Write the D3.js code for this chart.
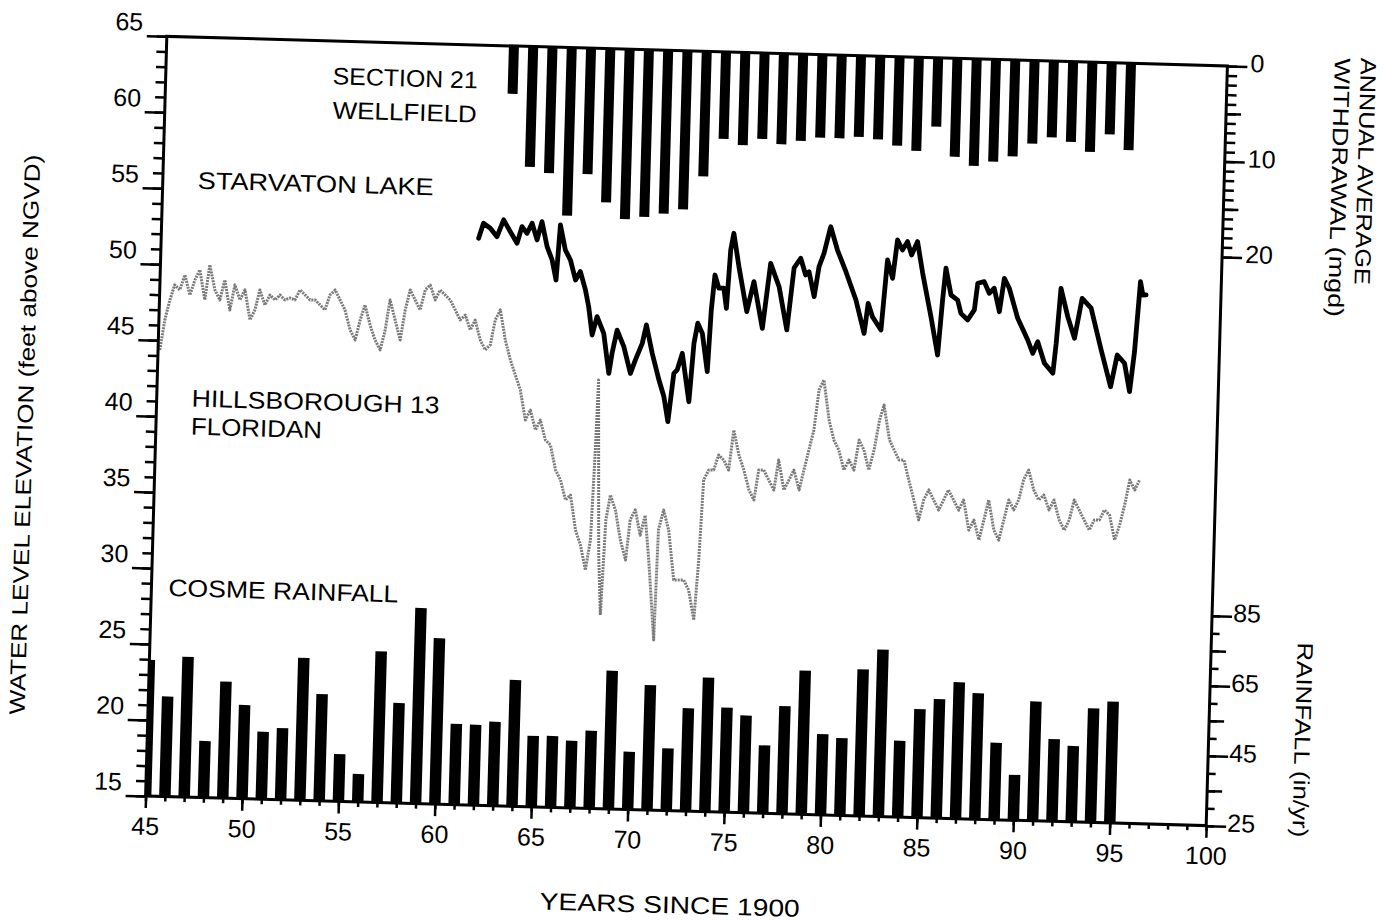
<!DOCTYPE html>
<html>
<head>
<meta charset="utf-8">
<script src="https://cdn.jsdelivr.net/npm/d3@7"></script>
<style>
  body { margin: 0; background: #ffffff; }
  text { font-family: "Liberation Sans", Arial, sans-serif; fill: #000; }
</style>
</head>
<body>
<div id="vis1"></div>
<script>
//frame dimensions
const FRAME_WIDTH = 1397;
const FRAME_HEIGHT = 921;
const PLOT = {left: 156, right: 1217, top: 51, bottom: 811};
const TILT = 1.6; // the scanned page sits a bit crooked

// data
const rainYears = d3.range(45, 96);
const rainfall = [63.9, 53.6, 65.1, 41.2, 58.3, 51.8, 44.3, 45.5, 65.7, 55.5,
                  38.5, 33.0, 68.2, 53.6, 80.9, 72.4, 48.1, 48.0, 49.0, 61.1,
                  45.3, 45.4, 44.2, 47.2, 64.5, 41.5, 60.7, 42.8, 54.4, 63.3,
                  54.9, 52.8, 44.4, 55.8, 66.1, 48.1, 47.1, 66.9, 72.7, 46.8,
                  56.0, 59.0, 64.0, 61.0, 47.0, 38.0, 59.1, 48.5, 46.7, 57.6, 59.7];

const pumpYears = d3.range(63, 96);
const withdrawal = [5.0, 12.6, 13.2, 17.6, 13.2, 16.1, 17.8, 17.5, 17.1, 16.6,
                    13.1, 9.1, 9.7, 9.0, 9.5, 9.1, 8.7, 8.7, 8.5, 8.7,
                    9.3, 9.8, 7.2, 10.3, 11.2, 10.7, 10.1, 8.7, 8.0, 8.4,
                    9.4, 7.5, 9.1];

const lakeYears = [61.45, 61.68, 62.04, 62.40, 62.72, 63.08, 63.45, 63.68, 63.95, 64.20,
  64.48, 64.71, 65.01, 65.29, 65.52, 65.67, 65.96, 66.24, 66.53, 66.77,
  67.06, 67.25, 67.47, 67.70, 68.07, 68.39, 68.53, 68.76, 69.13, 69.51,
  69.75, 70.08, 70.27, 70.61, 71.00, 71.28, 71.52, 71.76, 71.93, 72.17,
  72.58, 72.76, 72.93, 73.18, 73.49, 73.61, 73.75, 73.97, 74.23, 74.39,
  74.53, 74.67, 74.98, 75.45, 75.78, 76.28, 76.62, 77.09, 77.55, 77.84,
  78.17, 78.45, 78.62, 78.92, 79.13, 79.37, 79.68, 80.06, 80.53, 81.09,
  81.56, 81.73, 81.97, 82.43, 82.67, 82.96, 83.16, 83.43, 83.68, 83.91,
  84.20, 84.51, 85.00, 85.40, 85.58, 85.71, 86.01, 86.36, 86.55, 86.91,
  87.24, 87.38, 87.71, 87.99, 88.24, 88.54, 88.75, 89.02, 89.50, 90.05,
  90.33, 90.57, 90.95, 91.40, 91.53, 91.70, 92.09, 92.47, 92.81, 93.29,
  93.87, 94.41, 94.71, 95.10, 95.40, 95.60, 95.81, 95.95, 96.12];
const lakeLevels = [52.30, 53.29, 52.97, 52.43, 53.55, 52.79, 52.04, 53.14, 52.71, 53.38,
  52.29, 53.50, 51.87, 51.00, 49.69, 53.32, 51.68, 51.03, 49.73, 50.29,
  49.09, 48.00, 46.14, 47.36, 46.27, 43.65, 44.97, 46.51, 45.43, 43.69,
  44.58, 45.68, 46.90, 45.05, 43.30, 42.21, 40.58, 43.77, 44.00, 45.10,
  41.93, 45.78, 47.11, 46.45, 43.94, 48.01, 50.31, 49.45, 49.46, 48.14,
  51.99, 53.09, 50.90, 47.96, 49.95, 46.89, 51.18, 49.66, 46.83, 50.92,
  51.57, 50.48, 50.70, 49.07, 51.05, 51.94, 53.70, 52.18, 50.77, 48.93,
  46.75, 48.73, 47.86, 47.00, 51.62, 50.42, 52.95, 52.30, 52.86, 51.99,
  52.88, 50.81, 47.97, 45.46, 49.09, 51.18, 49.43, 49.11, 48.24, 47.82,
  48.49, 50.25, 50.37, 49.61, 49.95, 48.42, 50.62, 49.98, 48.02, 46.61,
  45.74, 46.52, 45.11, 44.47, 46.45, 50.07, 48.22, 46.81, 49.45, 48.82,
  46.09, 43.69, 45.79, 45.26, 43.40, 46.04, 50.65, 49.78, 49.79];

const wellYears = [45.09, 45.31, 45.54, 45.77, 46.04, 46.28, 46.57, 46.81, 47.05, 47.35,
  47.56, 47.86, 48.13, 48.36, 48.66, 48.89, 49.17, 49.42, 49.72, 49.96,
  50.19, 50.47, 50.72, 50.99, 51.24, 51.50, 51.76, 52.02, 52.27, 52.54,
  52.80, 53.06, 53.33, 53.59, 53.83, 54.09, 54.36, 54.63, 54.92, 55.20,
  55.43, 55.66, 55.95, 56.23, 56.51, 56.74, 56.95, 57.24, 57.53, 57.75,
  57.98, 58.25, 58.52, 58.76, 59.01, 59.29, 59.53, 59.80, 60.07, 60.34,
  60.61, 60.87, 61.15, 61.39, 61.68, 61.95, 62.21, 62.43, 62.68, 62.98,
  63.27, 63.55, 63.83, 64.13, 64.38, 64.67, 64.91, 65.20, 65.47, 65.77,
  66.04, 66.33, 66.58, 66.89, 67.17, 67.46, 67.68, 67.81, 67.87, 68.13,
  68.30, 68.45, 68.65, 68.93, 69.23, 69.53, 69.71, 69.96, 70.25, 70.48,
  70.73, 71.10, 71.19, 71.43, 71.72, 72.05, 72.31, 72.57, 72.84, 73.15,
  73.32, 73.46, 73.71, 73.97, 74.20, 74.47, 74.74, 74.95, 75.25, 75.53,
  75.82, 76.09, 76.30, 76.56, 76.83, 77.11, 77.32, 77.63, 77.88, 78.12,
  78.42, 78.64, 78.87, 79.10, 79.31, 79.55, 79.87, 80.15, 80.42, 80.71,
  80.96, 81.23, 81.46, 81.72, 82.00, 82.25, 82.49, 82.70, 83.03, 83.29,
  83.55, 83.81, 84.09, 84.38, 84.66, 84.89, 85.14, 85.41, 85.68, 85.92,
  86.16, 86.44, 86.72, 86.96, 87.27, 87.52, 87.81, 88.04, 88.26, 88.57,
  88.84, 89.07, 89.30, 89.57, 89.81, 90.04, 90.29, 90.58, 90.85, 91.11,
  91.40, 91.64, 91.94, 92.22, 92.46, 92.69, 92.96, 93.23, 93.51, 93.76,
  94.02, 94.27, 94.54, 94.84, 95.08, 95.31, 95.54, 95.81, 96.05];
const wellLevels = [44.36, 46.35, 47.67, 48.67, 48.35, 49.34, 48.03, 49.03, 49.70, 47.74,
  50.05, 48.41, 47.76, 49.09, 47.12, 48.78, 47.80, 48.47, 46.50, 47.17,
  48.49, 47.51, 48.18, 47.86, 48.20, 47.88, 48.02, 47.90, 48.57, 48.25,
  47.93, 47.94, 47.62, 47.30, 48.29, 48.63, 47.98, 47.33, 46.03, 45.38,
  46.70, 47.70, 46.39, 45.41, 44.77, 46.09, 48.07, 46.77, 45.46, 47.44,
  48.77, 48.12, 47.47, 48.80, 49.13, 48.16, 48.82, 48.50, 48.18, 47.54,
  46.89, 47.22, 46.25, 46.91, 45.61, 44.96, 45.30, 46.95, 47.62, 45.65,
  44.35, 43.37, 42.39, 40.43, 41.09, 39.79, 40.45, 39.15, 38.83, 37.19,
  36.55, 35.24, 35.58, 33.28, 32.30, 30.67, 32.65, 38.94, 43.19, 31.71,
  27.74, 34.00, 35.65, 34.67, 32.70, 31.40, 34.05, 34.72, 33.06, 34.38,
  31.45, 26.20, 33.45, 34.76, 33.45, 30.18, 30.18, 30.19, 29.55, 27.58,
  31.54, 36.81, 37.48, 37.49, 38.48, 38.16, 37.51, 40.15, 38.52, 37.54,
  36.24, 35.59, 37.57, 37.58, 36.93, 36.28, 38.26, 36.30, 36.97, 37.63,
  36.33, 37.65, 38.97, 40.30, 42.94, 43.61, 40.99, 39.68, 39.03, 37.72,
  38.39, 37.74, 39.72, 39.08, 37.77, 39.10, 41.08, 42.07, 39.78, 39.13,
  38.49, 38.49, 37.18, 35.88, 34.58, 35.90, 36.57, 35.91, 35.27, 35.93,
  36.60, 35.95, 35.30, 35.97, 34.00, 34.67, 33.37, 34.69, 36.02, 34.05,
  33.40, 34.73, 36.05, 35.41, 36.07, 37.40, 38.06, 36.76, 36.11, 36.45,
  35.47, 36.14, 34.83, 34.18, 34.85, 36.17, 35.53, 34.88, 34.23, 34.89,
  34.90, 35.57, 35.25, 33.62, 34.61, 35.93, 37.59, 36.94, 37.61];

// tick labels
const levelTicks = [15, 20, 25, 30, 35, 40, 45, 50, 55, 60, 65];
const yearTicks = [45, 50, 55, 60, 65, 70, 75, 80, 85, 90, 95, 100];
const pumpTicks = [0, 10, 20];
const rainTicks = [25, 45, 65, 85];

const svg = d3.select("#vis1")
  .append("svg")
    .attr("width", FRAME_WIDTH)
    .attr("height", FRAME_HEIGHT);

const FRAME1 = svg.append("g")
    .attr("transform", "rotate(" + TILT + ",686.5,431)");

// scales
const X_SCALE = d3.scaleLinear().domain([45, 100]).range([PLOT.left, PLOT.right]);
const LEVEL = d3.scaleLinear().domain([15, 65]).range([PLOT.bottom, PLOT.top]);
const PUMP = d3.scaleLinear().domain([0, 20]).range([PLOT.top, PLOT.top + 191]);
const RAIN = d3.scaleLinear().domain([25, 85]).range([PLOT.bottom, PLOT.bottom - 210]);

FRAME1.append("clipPath").attr("id", "plotclip")
  .append("rect")
    .attr("x", PLOT.left).attr("y", PLOT.top)
    .attr("width", PLOT.right - PLOT.left).attr("height", PLOT.bottom - PLOT.top);

const marks = FRAME1.append("g").attr("clip-path", "url(#plotclip)");

// rainfall bars
const RAIN_W = 11.5;
marks.selectAll(".rain")
    .data(d3.zip(rainYears, rainfall))
    .enter()
    .append("rect")
      .attr("x", (d) => { return X_SCALE(d[0]) - RAIN_W / 2; })
      .attr("y", (d) => { return RAIN(d[1]); })
      .attr("width", RAIN_W)
      .attr("height", (d) => { return RAIN(25) - RAIN(d[1]); })
      .attr("fill", "#000");

// withdrawal bars hang from the top
const PUMP_W = 10;
marks.selectAll(".pump")
    .data(d3.zip(pumpYears, withdrawal))
    .enter()
    .append("rect")
      .attr("x", (d) => { return X_SCALE(d[0]) - PUMP_W / 2; })
      .attr("y", PUMP(0))
      .attr("width", PUMP_W)
      .attr("height", (d) => { return PUMP(d[1]) - PUMP(0); })
      .attr("fill", "#000");

// hillsborough 13 floridan well (grey, noisy)
const line = d3.line()
    .x((d) => { return X_SCALE(d[0]); })
    .y((d) => { return LEVEL(d[1]); });

marks.append("path")
    .datum(d3.zip(wellYears, wellLevels))
    .attr("d", line)
    .attr("fill", "none")
    .attr("stroke", "#7a7a7a")
    .attr("stroke-width", 3)
    .attr("stroke-dasharray", "2 1")
    .attr("stroke-linejoin", "round");

// starvaton lake
marks.append("path")
    .datum(d3.zip(lakeYears, lakeLevels))
    .attr("d", line)
    .attr("fill", "none")
    .attr("stroke", "#000")
    .attr("stroke-width", 4.8)
    .attr("stroke-linejoin", "round")
    .attr("stroke-linecap", "round");

// axes
function styleAxis(g) {
  g.select(".domain").remove();
  g.selectAll("line").attr("stroke", "#000").attr("stroke-width", 2.5);
  g.attr("font-size", 25).attr("font-family", "Liberation Sans, Arial, sans-serif");
  g.selectAll("text").attr("fill", "#000");
}

// left: water level
FRAME1.append("g")
    .attr("transform", "translate(" + PLOT.left + ",0)")
    .call(d3.axisLeft(LEVEL).tickValues(d3.range(15, 66)).tickSize(10).tickFormat(""))
    .call(styleAxis);
FRAME1.append("g")
    .attr("transform", "translate(" + PLOT.left + ",0)")
    .call(d3.axisLeft(LEVEL).tickValues(levelTicks).tickSize(20).tickPadding(4))
    .call(styleAxis)
    .selectAll("text").attr("dy", "-0.22em");

// bottom: years
FRAME1.append("g")
    .attr("transform", "translate(0," + PLOT.bottom + ")")
    .call(d3.axisBottom(X_SCALE).tickValues(d3.range(45, 101)).tickSize(5).tickFormat(""))
    .call(styleAxis);
FRAME1.append("g")
    .attr("transform", "translate(0," + PLOT.bottom + ")")
    .call(d3.axisBottom(X_SCALE).tickValues(yearTicks).tickSize(12).tickPadding(9))
    .call(styleAxis);

// right: withdrawal
FRAME1.append("g")
    .attr("transform", "translate(" + PLOT.right + ",0)")
    .call(d3.axisRight(PUMP).tickValues(d3.range(0, 21)).tickSize(10).tickFormat(""))
    .call(styleAxis);
FRAME1.append("g")
    .attr("transform", "translate(" + PLOT.right + ",0)")
    .call(d3.axisRight(PUMP).tickValues([5, 15]).tickSize(15).tickFormat(""))
    .call(styleAxis);
FRAME1.append("g")
    .attr("transform", "translate(" + PLOT.right + ",0)")
    .call(d3.axisRight(PUMP).tickValues(pumpTicks).tickSize(20).tickPadding(3))
    .call(styleAxis)
    .selectAll("text").attr("dy", "0.2em");

// right: rainfall
FRAME1.append("g")
    .attr("transform", "translate(" + PLOT.right + ",0)")
    .call(d3.axisRight(RAIN).tickValues(d3.range(25, 86, 5)).tickSize(8).tickFormat(""))
    .call(styleAxis);
FRAME1.append("g")
    .attr("transform", "translate(" + PLOT.right + ",0)")
    .call(d3.axisRight(RAIN).tickValues([35, 55, 75]).tickSize(15).tickFormat(""))
    .call(styleAxis);
FRAME1.append("g")
    .attr("transform", "translate(" + PLOT.right + ",0)")
    .call(d3.axisRight(RAIN).tickValues(rainTicks).tickSize(20).tickPadding(1))
    .call(styleAxis)
    .selectAll("text").attr("dy", "0.2em");

// frame
FRAME1.append("rect")
    .attr("x", PLOT.left).attr("y", PLOT.top)
    .attr("width", PLOT.right - PLOT.left).attr("height", PLOT.bottom - PLOT.top)
    .attr("fill", "none")
    .attr("stroke", "#000")
    .attr("stroke-width", 3);

// series names
function label(txt, x, y, len) {
  FRAME1.append("text")
      .attr("x", x).attr("y", y)
      .attr("dy", "0.35em")
      .attr("font-size", 24)
      .attr("textLength", len)
      .attr("lengthAdjust", "spacingAndGlyphs")
      .text(txt);
}
label("SECTION 21", 323, 86, 145);
label("WELLFIELD", 324, 120, 144);
label("STARVATON LAKE", 191, 194, 236);
label("HILLSBOROUGH 13", 191, 412, 248);
label("FLORIDAN", 191, 440, 131);
label("COSME RAINFALL", 173, 602, 230);

// axis titles
FRAME1.append("text")
    .attr("transform", "translate(683,905)")
    .attr("text-anchor", "middle")
    .attr("dy", "0.35em")
    .attr("font-size", 24)
    .attr("textLength", 260)
    .attr("lengthAdjust", "spacingAndGlyphs")
    .text("YEARS SINCE 1900");

FRAME1.append("text")
    .attr("transform", "translate(25,453) rotate(-90)")
    .attr("text-anchor", "middle")
    .attr("dy", "0.35em")
    .attr("font-size", 22)
    .attr("textLength", 560)
    .attr("lengthAdjust", "spacingAndGlyphs")
    .text("WATER LEVEL ELEVATION (feet above NGVD)");

function sideTitle(txt, x, y, len) {
  FRAME1.append("text")
      .attr("transform", "translate(" + x + "," + y + ") rotate(90)")
      .attr("dy", "0.35em")
      .attr("font-size", 22)
      .attr("textLength", len)
      .attr("lengthAdjust", "spacingAndGlyphs")
      .text(txt);
}
sideTitle("ANNUAL AVERAGE", 1358, 39, 227);
sideTitle("WITHDRAWAL (mgd)", 1332, 40, 259);
sideTitle("RAINFALL (in/yr)", 1311, 625, 195);
</script>
</body>
</html>
